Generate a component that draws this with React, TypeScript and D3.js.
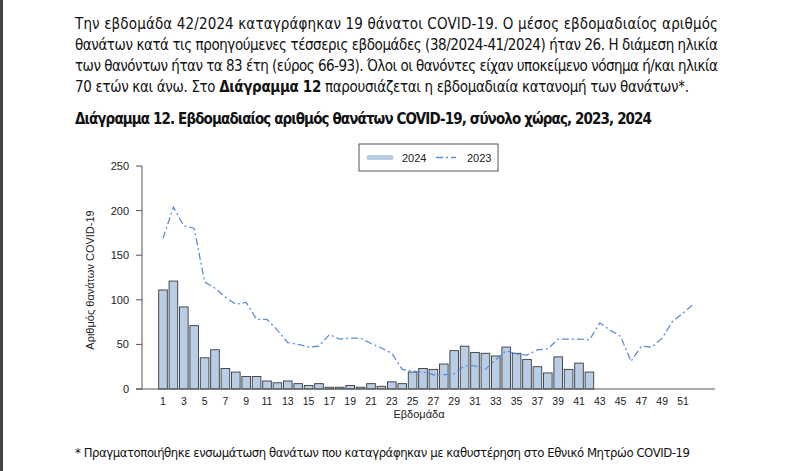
import React from 'react';
import * as d3 from 'd3';

// weekly COVID-19 deaths, Greece
const weeks = d3.range(1, 53);
const deaths2024 = [111, 121, 92, 71, 35, 44, 23, 19, 14, 14, 9, 7, 9, 6, 4, 6, 2, 2, 4, 2, 6, 3, 8, 6, 19, 23, 22, 28, 43, 48, 41, 40, 37, 47, 40, 33, 25, 18, 36, 22, 29, 19];
const deaths2023 = [169, 204, 183, 180, 120, 113, 103, 95, 97, 78, 78, 66, 52, 50, 47, 48, 61, 56, 57, 57, 51, 46, 40, 22, 20, 19, 16, 16, 17, 26, 26, 22, 33, 43, 39, 38, 44, 45, 56, 56, 56, 55, 74, 66, 59, 31, 48, 47, 57, 76, 85, 95];
const yTicks = [0, 50, 100, 150, 200, 250];
const xTickLabels = d3.range(1, 53, 2);

const paragraph = [
  'Την εβδομάδα 42/2024 καταγράφηκαν 19 θάνατοι COVID-19. Ο μέσος εβδομαδιαίος αριθμός',
  'θανάτων κατά τις προηγούμενες τέσσερις εβδομάδες (38/2024-41/2024) ήταν 26. Η διάμεση ηλικία',
  'των θανόντων ήταν τα 83 έτη (εύρος 66-93). Όλοι οι θανόντες είχαν υποκείμενο νόσημα ή/και ηλικία',
];

const textFont = '"Liberation Sans Narrow", "DejaVu Sans Condensed", "Open Sans", sans-serif';
const chartFont = '"Liberation Sans", Arial, sans-serif';
const barFill = '#b9cde5';
const lineColor = '#5b8ed6';

const App = () => {
  const width = 800;
  const height = 471;

  const x = d3.scaleBand<number>()
    .domain(weeks)
    .range([157.8, 157.8 + 52 * 10.4])
    .paddingInner(0.17)
    .paddingOuter(0.085);

  const y = d3.scaleLinear().domain([0, 250]).range([389, 166]);

  const cx = (w: number) => (x(w) as number) + x.bandwidth() / 2;

  const line = d3.line<number>()
    .x((d, i) => cx(weeks[i]))
    .y(d => y(d));

  return (
    <svg width={width} height={height} style={{ position: 'absolute', left: 0, top: 0, background: '#fff' }}>
      <rect x={0} y={0} width={width} height={height} fill="#fff" />
      <rect x={0} y={0} width={3} height={height} fill="#444" />

      {/* paragraph */}
      <g fontFamily={textFont} fontSize={15} fill="#111">
        {paragraph.map((t, i) => (
          <text key={i} x={75} y={29 + i * 21} textLength={643} lengthAdjust="spacing">{t}</text>
        ))}
        <text x={75} y={92} textLength={614} lengthAdjust="spacing">
          70 ετών και άνω. Στο <tspan fontWeight="bold">Διάγραμμα 12</tspan> παρουσιάζεται η εβδομαδιαία κατανομή των θανάτων*.
        </text>
        <text x={75} y={124} fontWeight="bold" textLength={577} lengthAdjust="spacing">
          Διάγραμμα 12. Εβδομαδιαίος αριθμός θανάτων COVID-19, σύνολο χώρας, 2023, 2024
        </text>
        <text x={75} y={457} fontSize={13} textLength={615} lengthAdjust="spacing">
          * Πραγματοποιήθηκε ενσωμάτωση θανάτων που καταγράφηκαν με καθυστέρηση στο Εθνικό Μητρώο COVID-19
        </text>
      </g>

      {/* bars */}
      <g>
        {deaths2024.map((d, i) => (
          <rect key={i}
            x={x(weeks[i])}
            y={y(d)}
            width={x.bandwidth()}
            height={y(0) - y(d)}
            fill={barFill}
            stroke="#3a3a3a"
            strokeWidth={0.9} />
        ))}
      </g>

      {/* 2023 line */}
      <path d={line(deaths2023) ?? ''} fill="none" stroke={lineColor} strokeWidth={1.3}
        strokeDasharray="7,3,2,3" />

      {/* axes */}
      <g fontFamily={chartFont} fontSize={11} fill="#222">
        <line x1={142} x2={142} y1={y(250)} y2={y(0)} stroke="#555" />
        <line x1={136} x2={715} y1={y(0)} y2={y(0)} stroke="#555" />
        {yTicks.map(t => (
          <g key={t}>
            <line x1={136} x2={142} y1={y(t)} y2={y(t)} stroke="#555" />
            <text x={129} y={y(t) + 4} textAnchor="end">{t}</text>
          </g>
        ))}
        {xTickLabels.map(w => (
          <text key={w} x={cx(w)} y={405} textAnchor="middle" fontSize={10.5}>{w}</text>
        ))}
        <text x={419} y={418} textAnchor="middle" fontSize={11}>Εβδομάδα</text>
        <text transform={`translate(94,${280}) rotate(-90)`} textAnchor="middle" fontSize={11}>
          Αριθμός θανάτων COVID-19
        </text>
      </g>

      {/* legend */}
      <g fontFamily={chartFont} fontSize={11} fill="#222">
        <rect x={359} y={144} width={139} height={27} fill="#fff" stroke="#555" />
        <line x1={369} x2={391} y1={157.5} y2={157.5} stroke={barFill} strokeWidth={5} strokeLinecap="round" />
        <text x={402} y={161.5}>2024</text>
        <line x1={436} x2={456} y1={157.5} y2={157.5} stroke={lineColor} strokeWidth={1.3} strokeDasharray="7,3,2,3" />
        <text x={467} y={161.5}>2023</text>
      </g>
    </svg>
  );
};

export default App;
